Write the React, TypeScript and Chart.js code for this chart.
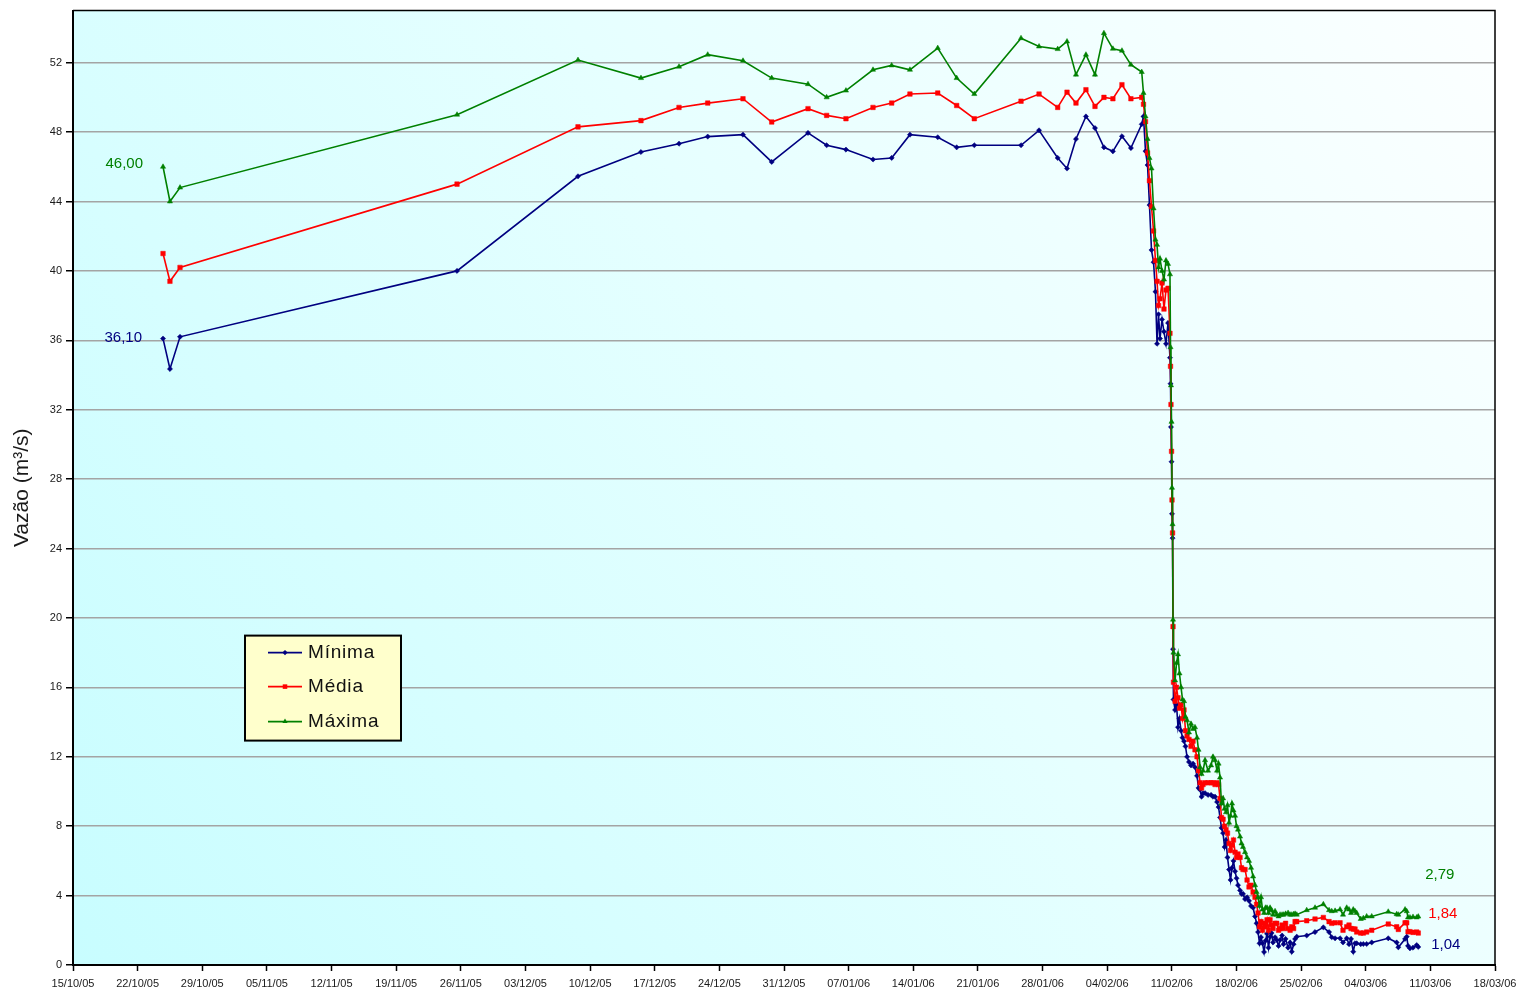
import React, { useEffect, useRef } from 'react';
import { Chart, registerables } from 'chart.js';

Chart.register(...registerables);

// Start of the time axis: 15/10/2005 (x values are days since this date)
const START_UTC = Date.UTC(2005, 9, 15);
const X_MAX_DAYS = 154; // 18/03/06
const X_STEP_DAYS = 7;

const Y_MAX = 55;
const Y_STEP = 4;
const Y_LAST_TICK = 52;

const seriesLabels = ['Mínima', 'Média', 'Máxima'];
const seriesColors = ['#000080', '#ff0000', '#008000'];
const yTitle = 'Vazão (m³/s)';

// measurement times, in days since 15/10/2005
const dayOffsets = [
  9.75, 10.5, 11.59, 41.59, 54.69, 61.51, 65.63, 68.74, 72.56, 75.67, 79.6, 81.62, 83.71, 86.64, 88.66, 90.64,
  93.65, 95.7, 97.61, 102.67, 104.62, 106.64, 107.65, 108.62, 109.7, 110.68, 111.65, 112.62, 113.6, 114.57, 115.74,
  115.93, 116.15, 116.37, 116.58, 116.8, 117.02, 117.23, 117.4, 117.56, 117.72, 117.94, 118.15, 118.37, 118.59,
  118.8, 118.86, 118.91, 118.97, 119.02, 119.08, 119.13, 119.18,
  119.35, 119.51, 119.67, 119.83, 120.0, 120.16, 120.32, 120.48, 120.65, 120.86, 121.08, 121.3, 121.51, 121.73,
  121.89, 122.06, 122.22, 122.38, 122.6, 122.92, 123.25, 123.46, 123.68, 123.9, 124.06, 124.22, 124.38, 124.55,
  124.71, 124.87, 125.03, 125.2, 125.36, 125.52, 125.68, 125.85, 126.01, 126.17, 126.39, 126.55, 126.71, 126.93,
  127.15, 127.36, 127.58, 127.8, 128.01, 128.18, 128.34, 128.5, 128.66, 128.82, 128.99, 129.15, 129.31, 129.47,
  129.64, 129.8, 129.96, 130.18, 130.36, 130.56, 130.72, 130.94, 131.1, 131.32, 131.59, 131.81, 131.99, 132.19,
  132.35, 132.53,
  133.61, 134.51, 135.41, 136.03, 136.32, 136.68, 137.22, 137.54, 137.94, 138.19, 138.41, 138.65, 138.84, 139.02,
  139.46, 139.74, 140.1, 140.65, 142.44, 143.35, 143.53, 144.26, 144.44, 144.58, 144.79, 145.12, 145.52, 145.69,
];

const minima = [
  36.1, 34.35, 36.2, 40.0, 45.45, 46.85, 47.33, 47.74, 47.85, 46.28, 47.95, 47.24, 46.99, 46.42, 46.51, 47.85,
  47.7, 47.12, 47.24, 47.24, 48.1, 46.51, 45.9, 47.6, 48.9, 48.23, 47.12, 46.89, 47.76, 47.08, 48.45,
  48.9, 46.9, 46.1, 43.8, 41.2, 40.5, 38.8, 35.8, 37.5, 36.1, 37.2, 36.5, 35.8, 37.0,
  35.0, 33.5, 31.0, 29.0, 26.0, 24.6, 18.2, 15.3,
  14.7, 15.0, 13.7, 14.2, 13.5, 13.1, 12.9, 12.6, 12.0, 11.7, 11.5, 11.6, 11.4, 10.9,
  10.2, 10.1, 9.7, 9.9, 9.9, 9.8, 9.8, 9.7, 9.7, 9.4, 9.1, 8.5, 7.9, 7.6,
  6.8, 7.2, 6.2, 5.5, 4.9, 5.6, 6.0, 5.4, 5.0, 4.6, 4.3, 4.1, 4.1, 3.8,
  3.9, 3.7, 3.4, 3.3, 2.8, 2.4, 1.9, 1.25, 1.6, 1.25, 0.75, 1.4, 1.8, 1.0,
  1.63, 1.84, 1.3, 1.6, 1.44, 1.1, 1.44, 1.7, 1.2, 1.5, 1.0, 1.3, 0.77, 1.2,
  1.5, 1.63,
  1.7, 1.9, 2.17, 1.9, 1.6, 1.54, 1.54, 1.3, 1.54, 1.2, 1.5, 0.77, 1.25, 1.25,
  1.2, 1.21, 1.21, 1.3, 1.54, 1.3, 1.02, 1.5, 1.63, 1.1, 0.96, 1.0, 1.15, 1.04,
];

const media = [
  41.0, 39.4, 40.2, 45.0, 48.3, 48.66, 49.42, 49.67, 49.92, 48.58, 49.35, 48.96, 48.77, 49.42, 49.67, 50.19,
  50.25, 49.53, 48.77, 49.78, 50.19, 49.42, 50.3, 49.67, 50.44, 49.48, 50.0, 49.92, 50.73, 49.92, 50.0,
  49.6, 48.6, 46.8, 45.2, 43.7, 42.3, 40.6, 39.4, 38.0, 38.4, 39.3, 37.8, 38.9, 39.0,
  36.4, 34.5, 32.3, 29.6, 26.8, 24.9, 19.5, 16.3,
  15.2, 16.0, 15.4, 14.8, 15.0, 14.2, 14.7, 13.5, 13.2, 13.0, 12.6, 12.9, 12.4, 12.0,
  11.2, 10.5, 10.2, 10.4, 10.5, 10.5, 10.5, 10.5, 10.4, 10.5, 10.4, 9.6, 8.5, 8.4,
  8.0, 7.8, 7.6, 7.0, 6.6, 6.9, 7.2, 6.5, 6.2, 6.4, 6.2, 5.6, 5.5, 5.5,
  4.9, 4.5, 4.6, 4.2, 3.9, 3.5, 3.0, 2.2, 2.5, 2.0, 2.4, 2.2, 2.6, 2.0,
  2.6, 2.3, 2.1, 2.4, 2.4, 2.0, 2.1, 2.3, 2.1, 2.4, 2.1, 2.0, 2.2, 2.1,
  2.5, 2.5,
  2.55, 2.65, 2.74, 2.5, 2.4, 2.43, 2.43, 2.0, 2.2, 2.3, 2.1, 2.07, 2.07, 1.9,
  1.84, 1.84, 1.9, 2.0, 2.36, 2.2, 2.05, 2.43, 2.43, 1.92, 1.92, 1.88, 1.9, 1.84,
];

const maxima = [
  46.0, 44.0, 44.8, 49.0, 52.15, 51.11, 51.77, 52.46, 52.11, 51.11, 50.76, 50.0, 50.39, 51.59, 51.84, 51.59,
  52.84, 51.11, 50.19, 53.41, 52.93, 52.78, 53.22, 51.31, 52.46, 51.31, 53.7, 52.8, 52.69, 51.88, 51.46,
  50.25, 48.9, 47.6, 46.5, 45.9, 43.6, 41.8, 41.5, 40.2, 40.7, 40.0, 39.5, 40.6, 40.4,
  39.8, 35.6, 33.4, 31.3, 27.5, 25.4, 19.9, 18.0,
  16.4, 17.4, 17.9, 16.8, 16.0, 15.3, 15.2, 14.3, 14.1, 13.4, 13.9, 13.6, 13.7, 13.1,
  12.4, 11.4, 11.0, 11.2, 11.8, 11.2, 11.5, 12.0, 11.8, 11.2, 11.6, 10.8, 9.3, 9.6,
  9.0, 8.8, 9.2, 8.2, 8.6, 9.3, 8.9, 8.6, 8.0, 7.8, 7.4, 7.0, 6.8, 6.5,
  6.2, 6.0, 5.6, 5.1, 4.6, 4.2, 3.9, 3.4, 3.9, 3.2, 3.0, 3.3, 3.3, 3.0,
  3.3, 3.16, 2.9, 3.1, 2.9, 2.8, 2.9, 2.9, 2.9, 2.95, 3.0, 2.9, 2.9, 2.93,
  2.95, 2.9,
  3.16, 3.3, 3.5, 3.16, 3.1, 3.12, 3.2, 2.9, 3.3, 3.2, 3.0, 3.2, 3.1, 3.0,
  2.65, 2.7, 2.8, 2.8, 3.07, 2.93, 2.9, 3.2, 3.1, 2.74, 2.74, 2.77, 2.74, 2.79,
];

const FONT = '"Liberation Sans", Arial, sans-serif';

function fmtDate(days: number): string {
  const d = new Date(START_UTC + Math.round(days) * 86400000);
  const dd = String(d.getUTCDate()).padStart(2, '0');
  const mm = String(d.getUTCMonth() + 1).padStart(2, '0');
  const yy = String(d.getUTCFullYear() % 100).padStart(2, '0');
  return `${dd}/${mm}/${yy}`;
}

function toPoints(values: number[]) {
  const n = Math.min(values.length, dayOffsets.length);
  const pts: { x: number; y: number }[] = [];
  for (let i = 0; i < n; i++) pts.push({ x: dayOffsets[i], y: values[i] });
  return pts;
}

// value labels: dataset index, which point, offsets and alignment
const valueLabels = [
  { ds: 2, at: 'first', dx: -20, dy: -3, align: 'right' },
  { ds: 0, at: 'first', dx: -21, dy: -1, align: 'right' },
  { ds: 2, at: 'last', dx: 7, dy: -42, align: 'left' },
  { ds: 1, at: 'last', dx: 10, dy: -19, align: 'left' },
  { ds: 0, at: 'last', dx: 13, dy: -2, align: 'left' },
];

const pointStyles = ['rectRot', 'rect', 'triangle'];
const pointRadii = [2.6, 3.2, 3];

function drawMarker(ctx: CanvasRenderingContext2D, style: string, x: number, y: number, r: number, color: string) {
  ctx.fillStyle = color;
  ctx.beginPath();
  if (style === 'rect') {
    const s = r * Math.SQRT1_2;
    ctx.rect(x - s, y - s, 2 * s, 2 * s);
  } else if (style === 'rectRot') {
    ctx.moveTo(x, y - r);
    ctx.lineTo(x + r, y);
    ctx.lineTo(x, y + r);
    ctx.lineTo(x - r, y);
    ctx.closePath();
  } else {
    ctx.moveTo(x, y - r);
    ctx.lineTo(x + r * 0.87, y + r * 0.5);
    ctx.lineTo(x - r * 0.87, y + r * 0.5);
    ctx.closePath();
  }
  ctx.fill();
}

const backgroundPlugin = {
  id: 'plotBackground',
  beforeDraw(chart: any) {
    const { ctx, chartArea: a } = chart;
    ctx.save();
    const g = ctx.createLinearGradient(a.left, a.bottom, a.right, a.top);
    g.addColorStop(0, '#c8fdff');
    g.addColorStop(0.55, '#e6ffff');
    g.addColorStop(1, '#fcffff');
    ctx.fillStyle = g;
    ctx.fillRect(a.left, a.top, a.right - a.left, a.bottom - a.top);
    ctx.restore();
  },
};

const overlayPlugin = {
  id: 'overlay',
  afterDatasetsDraw(chart: any) {
    const { ctx } = chart;
    ctx.save();
    ctx.font = `15px ${FONT}`;
    ctx.textBaseline = 'middle';
    for (const l of valueLabels) {
      const meta = chart.getDatasetMeta(l.ds);
      const data = chart.data.datasets[l.ds].data as { x: number; y: number }[];
      const idx = l.at === 'first' ? 0 : data.length - 1;
      const el = meta.data[idx];
      if (!el) continue;
      ctx.fillStyle = seriesColors[l.ds];
      ctx.textAlign = l.align as CanvasTextAlign;
      ctx.fillText(data[idx].y.toFixed(2).replace('.', ','), el.x + l.dx, el.y + l.dy);
    }
    ctx.restore();
  },
  afterDraw(chart: any) {
    const { ctx, chartArea: a } = chart;
    ctx.save();
    // plot border
    ctx.strokeStyle = '#000';
    ctx.lineWidth = 1.5;
    ctx.beginPath();
    ctx.moveTo(a.left, a.top);
    ctx.lineTo(a.right, a.top);
    ctx.lineTo(a.right, a.bottom);
    ctx.stroke();

    // legend box
    const x = a.left + 172;
    const y = a.top + 625;
    const w = 156;
    const h = 105;
    ctx.fillStyle = '#ffffcc';
    ctx.fillRect(x, y, w, h);
    ctx.lineWidth = 2;
    ctx.strokeStyle = '#000';
    ctx.strokeRect(x, y, w, h);
    const rows = [17, 51, 86];
    ctx.font = `19px ${FONT}`;
    ctx.textBaseline = 'middle';
    ctx.textAlign = 'left';
    try {
      (ctx as any).letterSpacing = '0.8px';
    } catch (e) {
      /* ignore */
    }
    for (let i = 0; i < seriesLabels.length; i++) {
      const cy = y + rows[i];
      ctx.strokeStyle = seriesColors[i];
      ctx.lineWidth = 1.6;
      ctx.beginPath();
      ctx.moveTo(x + 23, cy);
      ctx.lineTo(x + 57, cy);
      ctx.stroke();
      drawMarker(ctx, pointStyles[i], x + 40, cy, pointRadii[i], seriesColors[i]);
      ctx.fillStyle = '#111';
      ctx.fillText(seriesLabels[i], x + 63, cy);
    }
    ctx.restore();
  },
};

export default function App() {
  const canvasRef = useRef<HTMLCanvasElement | null>(null);

  useEffect(() => {
    const canvas = canvasRef.current;
    if (!canvas) return;
    const datasets = [minima, media, maxima].map((vals, i) => ({
      label: seriesLabels[i],
      data: toPoints(vals),
      borderColor: seriesColors[i],
      backgroundColor: seriesColors[i],
      pointBackgroundColor: seriesColors[i],
      pointBorderColor: seriesColors[i],
      pointBorderWidth: 0.5,
      borderWidth: 1.6,
      pointStyle: pointStyles[i],
      pointRadius: pointRadii[i],
      tension: 0,
      order: 2 - i,
    }));

    const chart = new Chart(canvas, {
      type: 'line',
      data: { datasets },
      plugins: [backgroundPlugin, overlayPlugin],
      options: {
        animation: false,
        responsive: false,
        devicePixelRatio: 1,
        layout: { padding: { top: 9, right: 37, left: 0, bottom: 0 } },
        plugins: {
          legend: { display: false },
          tooltip: { enabled: false },
        },
        scales: {
          x: {
            type: 'linear',
            min: 0,
            max: X_MAX_DAYS,
            afterFit: (s: any) => {
              s.height = 31;
            },
            grid: {
              drawOnChartArea: false,
              drawTicks: true,
              tickLength: 6,
              tickColor: '#000',
              tickWidth: 1.5,
            },
            border: { display: true, color: '#000', width: 2 },
            ticks: {
              stepSize: X_STEP_DAYS,
              autoSkip: false,
              maxRotation: 0,
              minRotation: 0,
              padding: 6,
              color: '#1a1a1a',
              font: { family: FONT, size: 11 },
              callback: (v: any) => fmtDate(Number(v)),
            },
          },
          y: {
            type: 'linear',
            min: 0,
            max: Y_MAX,
            afterFit: (s: any) => {
              s.width = 73;
            },
            afterBuildTicks: (s: any) => {
              s.ticks = s.ticks.filter((t: any) => t.value <= Y_LAST_TICK);
            },
            grid: {
              color: '#a4a4a4',
              lineWidth: 1.5,
              tickLength: 7,
              tickColor: '#000',
              tickWidth: 1.5,
            },
            border: { display: true, color: '#000', width: 2 },
            ticks: {
              stepSize: Y_STEP,
              padding: 4,
              color: '#1a1a1a',
              font: { family: FONT, size: 11 },
            },
            title: {
              display: true,
              text: yTitle,
              color: '#1a1a1a',
              font: { family: FONT, size: 21 },
              padding: { top: 10, bottom: 0 },
            },
          },
        },
      },
    } as any);

    return () => {
      chart.destroy();
    };
  }, []);

  return (
    <div style={{ position: 'fixed', left: 0, top: 0, width: 1532, height: 996, background: '#fff' }}>
      <canvas ref={canvasRef} width={1532} height={996} style={{ display: 'block', width: 1532, height: 996 }} />
    </div>
  );
}
